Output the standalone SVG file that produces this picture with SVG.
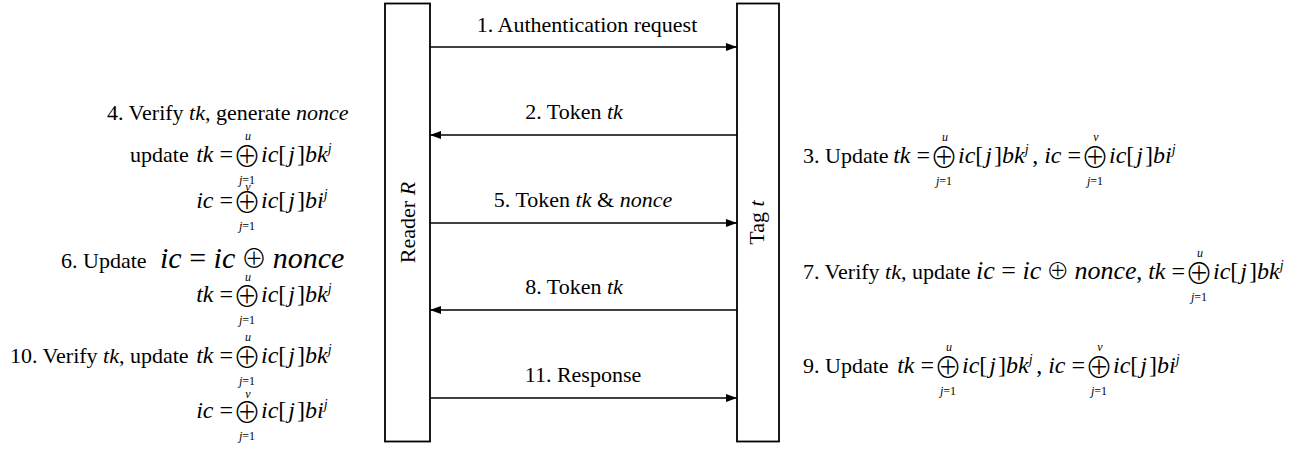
<svg xmlns="http://www.w3.org/2000/svg" width="1295" height="449" viewBox="0 0 1295 449">
<style>
text{font-family:"Liberation Serif","Times New Roman",serif;fill:#000}
.t{font-size:22px}
.i{font-style:italic}
.u{font-style:normal}
.m{font-size:24px;font-style:italic}
.n{font-size:30px;font-style:italic}
.n2{font-size:26px;font-style:italic}
.o{font-family:"Noto Sans CJK SC","DejaVu Sans",sans-serif;font-weight:300;font-style:normal}
.big{font-family:"Noto Sans CJK SC","DejaVu Sans",sans-serif;font-weight:300;font-size:28px;text-anchor:middle}
.lim{font-size:12px;font-style:italic;text-anchor:middle}
.box{fill:#fff;stroke:#000;stroke-width:1.8}
.ln{stroke:#000;stroke-width:1.4;fill:none}
</style>
<defs>
<marker id="ah" markerUnits="userSpaceOnUse" markerWidth="11" markerHeight="9" refX="11" refY="4.5" orient="auto">
<path d="M0,0.5 L11,4.5 L0,8.5 z" fill="#000"/>
</marker>
</defs>

<g id="reader">
<rect class="box" x="385" y="3.5" width="45" height="438"/>
<text class="t" transform="translate(415,222.5) rotate(-90)" text-anchor="middle">Reader <tspan class="i">R</tspan></text>
</g>
<g id="tag">
<rect class="box" x="737" y="3.5" width="42" height="438"/>
<text class="t" transform="translate(764,222.5) rotate(-90)" text-anchor="middle">Tag <tspan class="i">t</tspan></text>
</g>

<g id="connectors">
<line class="ln" x1="430" y1="47" x2="737" y2="47" marker-end="url(#ah)"/>
<line class="ln" x1="737" y1="135" x2="430" y2="135" marker-end="url(#ah)"/>
<line class="ln" x1="430" y1="223" x2="737" y2="223" marker-end="url(#ah)"/>
<line class="ln" x1="737" y1="310" x2="430" y2="310" marker-end="url(#ah)"/>
<line class="ln" x1="430" y1="398" x2="737" y2="398" marker-end="url(#ah)"/>
<text class="t" x="587" y="32" text-anchor="middle">1. Authentication request</text>
<text class="t" x="574" y="119" text-anchor="middle">2. Token <tspan class="i">tk</tspan></text>
<text class="t" x="583" y="207" text-anchor="middle">5. Token <tspan class="i">tk</tspan> &amp; <tspan class="i">nonce</tspan></text>
<text class="t" x="574" y="294" text-anchor="middle">8. Token <tspan class="i">tk</tspan></text>
<text class="t" x="583" y="382" text-anchor="middle">11. Response</text>
</g>

<g id="reader-steps">
<text class="t" x="107" y="120">4. Verify <tspan class="i">tk</tspan>, generate <tspan class="i">nonce</tspan></text>
<text class="t" x="130" y="162">update</text>
<text class="m" x="233" y="162" text-anchor="end">tk<tspan class="u"> =</tspan></text>
<text class="big" x="247" y="167">⊕</text>
<text class="lim" x="248" y="140">u</text>
<text class="lim" x="247" y="184">j<tspan class="u">=1</tspan></text>
<text class="m" x="261" y="162">ic<tspan class="u">[</tspan><tspan dx="2">j</tspan><tspan class="u" dx="2">]</tspan>bk<tspan dy="-9" font-size="14">j</tspan></text>

<text class="m" x="233" y="208" text-anchor="end">ic<tspan class="u"> =</tspan></text>
<text class="big" x="247" y="213">⊕</text>
<text class="lim" x="248" y="191">v</text>
<text class="lim" x="247" y="230">j<tspan class="u">=1</tspan></text>
<text class="m" x="261" y="208">ic<tspan class="u">[</tspan><tspan dx="2">j</tspan><tspan class="u" dx="2">]</tspan>bi<tspan dy="-9" font-size="14">j</tspan></text>

<text class="t" x="61" y="268">6. Update</text>
<text class="n" x="160" y="268">ic<tspan class="u"> = </tspan>ic<tspan class="o" font-size="26"> ⊕ </tspan>nonce</text>
<text class="m" x="233" y="302" text-anchor="end">tk<tspan class="u"> =</tspan></text>
<text class="big" x="247" y="307">⊕</text>
<text class="lim" x="248" y="281">u</text>
<text class="lim" x="247" y="324">j<tspan class="u">=1</tspan></text>
<text class="m" x="261" y="302">ic<tspan class="u">[</tspan><tspan dx="2">j</tspan><tspan class="u" dx="2">]</tspan>bk<tspan dy="-9" font-size="14">j</tspan></text>

<text class="t" x="10" y="363">10. Verify <tspan class="i">tk</tspan>, update</text>
<text class="m" x="233" y="363" text-anchor="end">tk<tspan class="u"> =</tspan></text>
<text class="big" x="247" y="368">⊕</text>
<text class="lim" x="248" y="341">u</text>
<text class="lim" x="247" y="385">j<tspan class="u">=1</tspan></text>
<text class="m" x="261" y="363">ic<tspan class="u">[</tspan><tspan dx="2">j</tspan><tspan class="u" dx="2">]</tspan>bk<tspan dy="-9" font-size="14">j</tspan></text>

<text class="m" x="233" y="418" text-anchor="end">ic<tspan class="u"> =</tspan></text>
<text class="big" x="247" y="423">⊕</text>
<text class="lim" x="248" y="398">v</text>
<text class="lim" x="247" y="440">j<tspan class="u">=1</tspan></text>
<text class="m" x="261" y="418">ic<tspan class="u">[</tspan><tspan dx="2">j</tspan><tspan class="u" dx="2">]</tspan>bi<tspan dy="-9" font-size="14">j</tspan></text>
</g>

<g id="tag-steps">
<text class="t" x="803" y="163">3. Update</text>
<text class="m" x="930" y="163" text-anchor="end">tk<tspan class="u"> =</tspan></text>
<text class="big" x="944" y="168">⊕</text>
<text class="lim" x="945" y="141">u</text>
<text class="lim" x="944" y="185">j<tspan class="u">=1</tspan></text>
<text class="m" x="958" y="163">ic<tspan class="u">[</tspan><tspan dx="2">j</tspan><tspan class="u" dx="2">]</tspan>bk<tspan dy="-9" font-size="14">j</tspan></text>
<text class="m" x="1081" y="163" text-anchor="end"><tspan class="u">, </tspan>ic<tspan class="u"> =</tspan></text>
<text class="big" x="1095" y="168">⊕</text>
<text class="lim" x="1096" y="141">v</text>
<text class="lim" x="1095" y="185">j<tspan class="u">=1</tspan></text>
<text class="m" x="1109" y="163">ic<tspan class="u">[</tspan><tspan dx="2">j</tspan><tspan class="u" dx="2">]</tspan>bi<tspan dy="-9" font-size="14">j</tspan></text>

<text class="t" x="803" y="279">7. Verify <tspan class="i">tk</tspan>, update</text>
<text class="n2" x="976" y="279">ic<tspan class="u"> = </tspan>ic<tspan class="o" font-size="23"> ⊕ </tspan>nonce</text>
<text class="m" x="1185" y="279" text-anchor="end"><tspan class="u">, </tspan>tk<tspan class="u"> =</tspan></text>
<text class="big" x="1199" y="284">⊕</text>
<text class="lim" x="1200" y="257">u</text>
<text class="lim" x="1199" y="301">j<tspan class="u">=1</tspan></text>
<text class="m" x="1213" y="279">ic<tspan class="u">[</tspan><tspan dx="2">j</tspan><tspan class="u" dx="2">]</tspan>bk<tspan dy="-9" font-size="14">j</tspan></text>

<text class="t" x="803" y="373">9. Update</text>
<text class="m" x="934" y="373" text-anchor="end">tk<tspan class="u"> =</tspan></text>
<text class="big" x="948" y="378">⊕</text>
<text class="lim" x="949" y="351">u</text>
<text class="lim" x="948" y="395">j<tspan class="u">=1</tspan></text>
<text class="m" x="962" y="373">ic<tspan class="u">[</tspan><tspan dx="2">j</tspan><tspan class="u" dx="2">]</tspan>bk<tspan dy="-9" font-size="14">j</tspan></text>
<text class="m" x="1085" y="373" text-anchor="end"><tspan class="u">, </tspan>ic<tspan class="u"> =</tspan></text>
<text class="big" x="1099" y="378">⊕</text>
<text class="lim" x="1100" y="351">v</text>
<text class="lim" x="1099" y="395">j<tspan class="u">=1</tspan></text>
<text class="m" x="1113" y="373">ic<tspan class="u">[</tspan><tspan dx="2">j</tspan><tspan class="u" dx="2">]</tspan>bi<tspan dy="-9" font-size="14">j</tspan></text>
</g>
</svg>
